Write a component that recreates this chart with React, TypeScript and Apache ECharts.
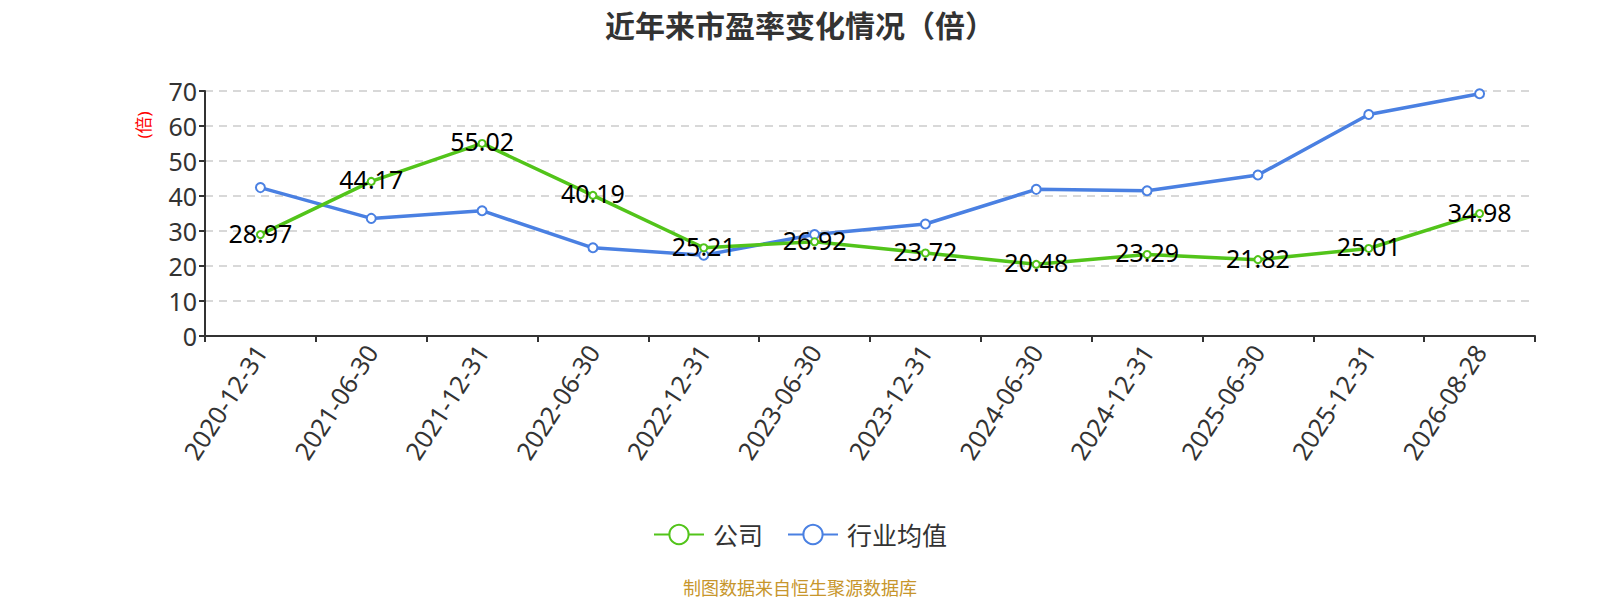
import React, { useEffect, useRef } from "react";
import * as echarts from "echarts";

const categories = [
  "2020-12-31", "2021-06-30", "2021-12-31", "2022-06-30", "2022-12-31", "2023-06-30",
  "2023-12-31", "2024-06-30", "2024-12-31", "2025-06-30", "2025-12-31", "2026-08-28",
];
const companyPE = [28.97, 44.17, 55.02, 40.19, 25.21, 26.92, 23.72, 20.48, 23.29, 21.82, 25.01, 34.98];
const industryPE = [42.4, 33.6, 35.8, 25.2, 23.1, 29.0, 32.0, 41.9, 41.5, 46.0, 63.3, 69.2];
const seriesNames = ["公司", "行业均值"];
const titleText = "近年来市盈率变化情况（倍）";
const unitText = "(倍)";
const footerText = "制图数据来自恒生聚源数据库";

const FONT = "'Noto Sans', 'Noto Sans CJK SC', sans-serif";
const GREEN = "#52c41a";
const BLUE = "#4a80e2";

export default function App() {
  const ref = useRef<HTMLDivElement>(null);
  useEffect(() => {
    document.body.style.margin = "0";
    const chart = echarts.init(ref.current!, undefined, { renderer: "svg" });
    chart.setOption({
      animation: false,
      backgroundColor: "#ffffff",
      textStyle: { fontFamily: FONT },
      title: {
        text: titleText,
        left: "center",
        top: 5,
        textStyle: { fontFamily: FONT, fontSize: 30, fontWeight: "bold", color: "#333333" },
      },
      legend: {
        data: seriesNames,
        left: "center",
        top: 517,
        itemWidth: 50,
        itemHeight: 24,
        itemGap: 24,
        textStyle: { fontFamily: FONT, fontSize: 25, color: "#333333", padding: [0, 0, 0, 4] },
      },
      grid: { left: 205, right: 65, top: 91, bottom: 264, containLabel: false },
      xAxis: {
        type: "category",
        data: categories,
        boundaryGap: true,
        axisLine: { lineStyle: { color: "#333333", width: 2 } },
        axisTick: { show: true, length: 6, lineStyle: { color: "#333333", width: 2 } },
        axisLabel: { rotate: 57, fontSize: 25, color: "#333333", fontFamily: FONT, margin: 11 },
      },
      yAxis: {
        type: "value",
        min: 0,
        max: 70,
        interval: 10,
        axisLine: { show: true, lineStyle: { color: "#333333", width: 2 } },
        axisTick: { show: true, length: 6, lineStyle: { color: "#333333", width: 2 } },
        axisLabel: { fontSize: 25, color: "#333333", fontFamily: FONT, margin: 8 },
        splitLine: { show: true, lineStyle: { color: "#cccccc", type: [8, 6], width: 1.5 } },
      },
      graphic: [
        {
          type: "text",
          x: 143,
          y: 125,
          rotation: Math.PI / 2,
          style: {
            text: unitText,
            fill: "#ff0000",
            fontSize: 17,
            fontFamily: FONT,
            align: "center",
            verticalAlign: "middle",
          },
        },
        {
          type: "text",
          x: 800,
          y: 588,
          style: {
            text: footerText,
            fill: "#c7962c",
            fontSize: 18,
            fontFamily: FONT,
            align: "center",
            verticalAlign: "middle",
          },
        },
      ],
      series: [
        {
          name: seriesNames[0],
          type: "line",
          data: companyPE,
          symbol: "emptyCircle",
          symbolSize: 7,
          itemStyle: { color: GREEN, borderWidth: 1.5 },
          lineStyle: { color: GREEN, width: 3.5 },
          label: {
            show: true,
            position: "inside",
            offset: [0, -2],
            fontSize: 25,
            color: "#000000",
            fontFamily: FONT,
            formatter: (p: any) => Number(p.value).toFixed(2),
          },
          z: 3,
        },
        {
          name: seriesNames[1],
          type: "line",
          data: industryPE,
          symbol: "emptyCircle",
          symbolSize: 9,
          itemStyle: { color: BLUE, borderWidth: 2 },
          lineStyle: { color: BLUE, width: 3.5 },
          label: { show: false },
          z: 2,
        },
      ],
    });
    return () => chart.dispose();
  }, []);
  return <div ref={ref} style={{ width: 1600, height: 600 }} />;
}
